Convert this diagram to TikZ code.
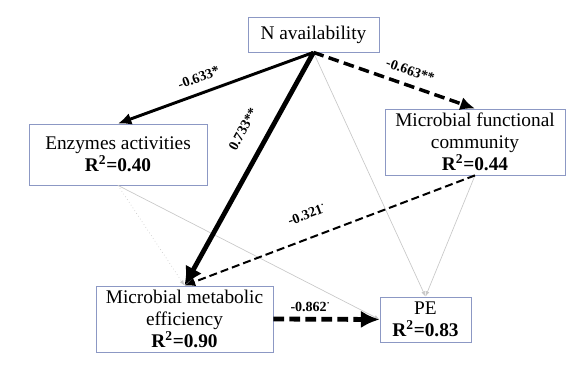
\documentclass[tikz,border=0pt]{standalone}
\usepackage{fontspec}
\setmainfont{Liberation Serif}
\usetikzlibrary{arrows.meta}
\definecolor{boxline}{RGB}{140,152,196}
\definecolor{faint}{RGB}{200,200,200}
\begin{document}
\begin{tikzpicture}[x=0.75pt,y=-0.75pt,
    varbox/.style={draw=boxline, line width=0.6pt, align=center, inner sep=0pt,
      font=\fontsize{14.5}{16.5}\selectfont},
    coef/.style={font=\fontsize{10.5}{12}\selectfont\bfseries, sloped, inner sep=1pt},
    weak/.style={draw=faint, line width=0.5pt, -{Latex[length=4pt,width=3pt]}}]
  \useasboundingbox (0,0) rectangle (579,375);
  % boxes
  \node[varbox, minimum width=98.25pt, minimum height=26.25pt] (nav) at (313.5,34.5) {N availability};
  \node[varbox, minimum width=133.5pt, minimum height=45.75pt] (enz) at (118,154.5) {Enzymes activities\\\textbf{R\textsuperscript{2}=0.40}};
  \node[varbox, minimum width=135pt, minimum height=49.5pt] (mfc) at (475,142) {Microbial functional\\community\\\textbf{R\textsuperscript{2}=0.44}};
  \node[varbox, minimum width=132.75pt, minimum height=49.5pt] (mme) at (184.5,319) {Microbial metabolic\\efficiency\\\textbf{R\textsuperscript{2}=0.90}};
  \node[varbox, minimum width=68.25pt, minimum height=33.75pt] (pe) at (425.5,319.5) {PE\\\textbf{R\textsuperscript{2}=0.83}};
  % weak paths
  \draw[weak] (nav.south) -- (pe.north);
  \draw[weak] (mfc.south) -- (pe.north);
  \draw[weak] (enz.south) -- (pe.west);
  \draw[weak, dotted] (enz.south) -- (mme.north);
  % significant paths
  \draw[-{Latex[length=10pt,width=9pt]}, line width=2.2pt] (nav.south) -- (enz.north)
    node[coef, pos=0.56, above=6pt] {-0.633*};
  \draw[-{Latex[length=14pt,width=14pt]}, line width=3.6pt] (nav.south) -- (mme.north)
    node[coef, pos=0.38, above=12pt] {0.733**};
  \draw[-{Latex[length=11pt,width=10pt]}, line width=2.6pt, dash pattern=on 8pt off 4pt] (nav.south) -- (mfc.north)
    node[coef, pos=0.57, above=5pt] {-0.663**};
  \draw[-{Latex[length=8pt,width=7pt]}, line width=1.5pt, dash pattern=on 6pt off 3pt] (mfc.south) -- (mme.north)
    node[coef, pos=0.55, above=12pt] {-0.321\textsuperscript{\textperiodcentered}};
  \draw[-{Latex[length=14pt,width=13pt]}, line width=3.6pt, dash pattern=on 8pt off 4pt] (mme.east) -- (pe.west)
    node[coef, pos=0.35, above=3pt] {-0.862\textsuperscript{\textperiodcentered}};
\end{tikzpicture}
\end{document}
